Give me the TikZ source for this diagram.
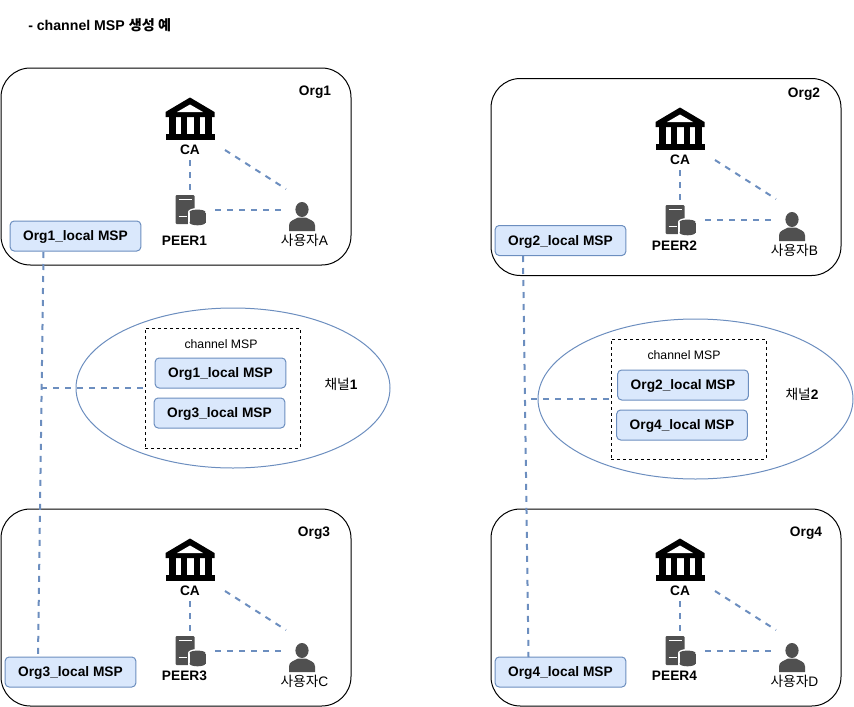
\documentclass[tikz,border=0pt]{standalone}
\usetikzlibrary{shapes.geometric}
\usepackage{fontspec}
\setmainfont{Liberation Sans}
\newfontfamily\kr{Noto Sans CJK KR}
\definecolor{mspfill}{HTML}{DAE8FC}
\definecolor{mspline}{HTML}{6C8EBF}
\definecolor{icongray}{HTML}{505050}
\tikzset{
  orgbox/.style={draw=black,line width=.75pt,rounded corners=22pt,minimum width=262.5pt,minimum height=147.75pt,inner sep=0pt},
  mspbox/.style={draw=mspline,fill=mspfill,line width=.75pt,rounded corners=3pt,minimum width=98pt,minimum height=22.5pt,inner sep=0pt,text height=7.4pt,text depth=0pt,font=\bfseries\fontsize{10.3}{12}\selectfont},
  link/.style={draw=mspline,line width=1.5pt,dash pattern=on 4.5pt off 4.5pt},
  lab/.style={inner sep=0pt,text height=7.4pt,text depth=0pt,font=\bfseries\fontsize{10.3}{12}\selectfont},
  small/.style={inner sep=0pt,font=\fontsize{10.3}{12}\selectfont},
  tiny/.style={inner sep=0pt,font=\fontsize{9.2}{11}\selectfont},
  slot/.style={inner sep=0pt,minimum width=30pt,minimum height=22pt},
  chan/.style={draw=mspline,line width=.75pt,ellipse},
  dashbox/.style={draw=black,line width=.75pt,dash pattern=on 2.25pt off 2.25pt,inner sep=0pt,minimum width=116.25pt,minimum height=90pt}
}
% #1 index, #2 dx, #3 dy, #4 peer label y, #5 user letter, #6 CA label y
\newcommand{\orggroup}[6]{%
  \begin{scope}[shift={(#2,#3)}]
    % bank
    \fill[black] (165.5,112) -- (190,97.5) -- (214.5,112) -- (214.5,117) -- (165.5,117) -- cycle;
    \fill[white] (177,112) -- (190,104.5) -- (203,112) -- cycle;
    \fill[black] (168.5,116) rectangle (175.5,135);
    \fill[black] (180.5,116) rectangle (186.5,135);
    \fill[black] (193.5,116) rectangle (199.5,135);
    \fill[black] (204.5,116) rectangle (211.5,135);
    \fill[black] (165.5,134) rectangle (215,139.5);
    % server + database
    \fill[icongray,rounded corners=.8pt] (175.5,195) rectangle (194.5,224);
    \draw[white,line width=.6pt] (178.5,199) -- (191.5,199) (178.5,216) -- (187,216);
    \fill[white] (197.5,212) ellipse[x radius=9.5,y radius=4];
    \fill[white] (188,212) rectangle (207,226);
    \fill[white] (197.5,223) ellipse[x radius=9.5,y radius=4];
    \fill[icongray] (197.5,222.5) ellipse[x radius=8,y radius=2.8];
    \fill[icongray] (189.5,213) rectangle (205.5,222.5);
    \draw[white,line width=.5pt] (189.5,212.5) arc[x radius=8,y radius=2.8,start angle=180,end angle=360];
    \fill[icongray] (197.5,212) ellipse[x radius=8,y radius=2.4];
    % user
    \fill[icongray] (302,209.5) ellipse[x radius=6.6,y radius=7.5];
    \fill[icongray] (289,231) -- (289,225.5) .. controls (289,220.5) and (294,220) .. (298,217.5)
      -- (306,217.5) .. controls (310,220) and (315,220.5) .. (315,225.5) -- (315,231) -- cycle;
    % named places for the connectors
    \node[slot] (bank#1) at (190,118) {};
    \node[slot] (peer#1) at (190,210) {};
    \node[slot] (user#1) at (302,210) {};
    \node[lab] (calabel#1) at (190,#6) {CA};
    \node[lab] (peerlabel#1) at (184.5,#4) {PEER#1};
    \node[small] (userlabel#1) at (304.5,240.5) {{\kr 사용자}#5};
    \coordinate (cacorner#1) at (225,150);
    \coordinate (usercorner#1) at (286,189);
    \coordinate (peerright#1) at (215,210);
    \coordinate (userleft#1) at (284,210);
    \coordinate (catop#1) at (190,160);
    \coordinate (peertop#1) at (190,191);
    \draw[link] (catop#1) -- (peertop#1);
    \draw[link] (cacorner#1) -- (usercorner#1);
    \draw[link] (peerright#1) -- (userleft#1);
  \end{scope}}
\begin{document}
\begin{tikzpicture}[x=.75pt,y=-.75pt]
\useasboundingbox (0,0) rectangle (854,707);

\node[lab,anchor=west,font=\bfseries\fontsize{10.6}{12}\selectfont] (title) at (28,25.5) {- channel MSP {\kr 생성 예}};

\node[orgbox] (org1) at (176,166.5) {};
\node[orgbox] (org2) at (666,177) {};
\node[orgbox] (org3) at (176,607.5) {};
\node[orgbox] (org4) at (666,607.5) {};

\node[lab] (org1label) at (315,91) {Org1};
\node[lab] (org2label) at (804,93) {Org2};
\node[lab] (org3label) at (314,532) {Org3};
\node[lab] (org4label) at (806,532) {Org4};

\orggroup{1}{0}{0}{241}{A}{149.5}
\orggroup{2}{490}{10}{236}{B}{149.5}
\orggroup{3}{0}{441}{235}{C}{149.5}
\orggroup{4}{490}{441}{235}{D}{149.5}

% channel 1
\node[chan,minimum width=235.5pt,minimum height=120pt,inner sep=0pt] (chan1) at (233,388) {};
\node[dashbox] (cbox1) at (222.5,388) {};
\node[tiny] (cmsp1) at (221,344) {channel MSP};
\node[mspbox] (in1a) at (220.5,373) {Org1\_local MSP};
\node[mspbox] (in1b) at (219.5,413) {Org3\_local MSP};
\node[tiny,font=\fontsize{10.3}{12}\selectfont] (chan1label) at (341,384) {{\kr 채널}\textbf{1}};

% channel 2
\node[chan,minimum width=236.25pt,minimum height=120pt,inner sep=0pt] (chan2) at (695.5,399) {};
\node[dashbox] (cbox2) at (688.5,399) {};
\node[tiny] (cmsp2) at (684,355) {channel MSP};
\node[mspbox] (in2a) at (683,385) {Org2\_local MSP};
\node[mspbox] (in2b) at (682,425) {Org4\_local MSP};
\node[tiny,font=\fontsize{10.3}{12}\selectfont] (chan2label) at (802,394) {{\kr 채널}\textbf{2}};

% local MSP
\node[mspbox] (msp1) at (75.5,236) {Org1\_local MSP};
\node[mspbox] (msp2) at (560.5,240.5) {Org2\_local MSP};
\node[mspbox] (msp3) at (70.5,672) {Org3\_local MSP};
\node[mspbox] (msp4) at (560.5,672) {Org4\_local MSP};

\coordinate (m1) at (43.5,252);
\coordinate (m3) at (38,657);
\coordinate (m2) at (523,256);
\coordinate (m4) at (528.5,657);
\coordinate (j1) at (41,388);
\coordinate (j2) at (526,399);
\draw[link] (m1) -- (m3);
\draw[link] (m2) -- (m4);
\draw[link] (cbox1.west) ++(-2,0) -- (j1);
\draw[link] (cbox2.west) ++(-2,0) -- (j2);
\end{tikzpicture}
\end{document}
